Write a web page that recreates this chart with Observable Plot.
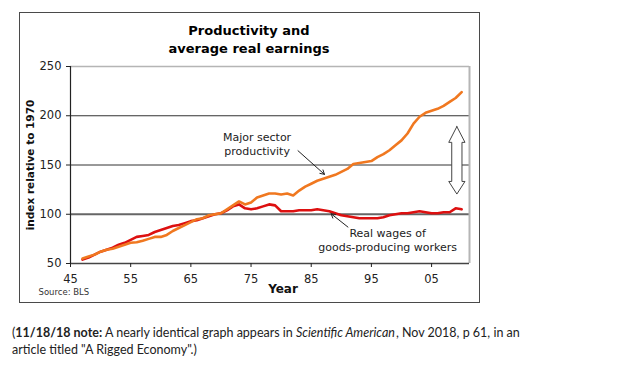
<!DOCTYPE html>
<html>
<head>
<meta charset="utf-8">
<script src="https://cdn.jsdelivr.net/npm/d3@7"></script>
<script src="https://cdn.jsdelivr.net/npm/@observablehq/plot@0.6"></script>
<style>
  html, body { margin: 0; padding: 0; background: #fff; }
  body { width: 624px; height: 372px; position: relative; overflow: hidden; }
  #box { position: absolute; left: 19px; top: 12px; width: 459px; height: 289px; border: 1.5px solid #4a4a4a; box-sizing: content-box; }
  #title { position: absolute; left: 19px; top: 22px; width: 460px; text-align: center;
    font-family: "DejaVu Sans", Verdana, sans-serif; font-weight: bold; font-size: 13px; line-height: 18px; color: #000; }
  #chart { position: absolute; left: 19px; top: 12px; }
  #note { position: absolute; left: 12px; top: 324px; width: 600px; white-space: nowrap;
    font-family: Lato, "Open Sans", sans-serif; font-size: 12.5px; line-height: 17px; color: #222; }
  #note i { padding-right: 1px; }
</style>
</head>
<body>
<div id="box"></div>
<div id="title">Productivity and<br>average real earnings</div>
<div id="chart"></div>
<div id="note"><span>(</span><b>11/18/18 note:</b><span> A nearly identical graph appears in </span><i>Scientific American</i><span>, Nov 2018, p 61, in an</span><br><span>article titled "A Rigged Economy".)</span></div>
<script>
// Data (index relative to 1970)
const years = [1947,1948,1949,1950,1951,1952,1953,1954,1955,1956,1957,1958,1959,1960,1961,1962,1963,1964,1965,1966,1967,1968,1969,1970,1971,1972,1973,1974,1975,1976,1977,1978,1979,1980,1981,1982,1983,1984,1985,1986,1987,1988,1989,1990,1991,1992,1993,1994,1995,1996,1997,1998,1999,2000,2001,2002,2003,2004,2005,2006,2007,2008,2009,2010];
const productivity = [55,57,59,62,64,65,67,69,71,71.5,73,75,77,77,79,83,86,89,92,95,96,99,100,101,105,109,113,110,112,117,119,121,121,120,121,119,124,128,131,134,136,138,140,143,146,151,152,153,154,158,161,165,170,175,182,192,199,203,205,207,210,214,218,224];
const realWages = [54,56,59,62,64,66,69,71,74,77,78,79,82,84,86,88,89,91,93,94,96,98,100,101,104,108,110,106,105,106,108,110,109,103,103,103,104,104,104,105,104,103,101,99,98,97,96,96,96,96,97,99,100,101,101,102,103,102,101,101,102,102,106,105];

const xTicks = [1945,1955,1965,1975,1985,1995,2005];
const yTicks = [50,100,150,200,250];
const gridValues = [150,200];

// annotation labels and arrows
const labels = [
  {x: 1976, y: 172, text: "Major sector\nproductivity"},
  {x: 1997.7, y: 74, text: "Real wages of\ngoods-producing workers"}
];
const arrows = [
  {x1: 1982.8, y1: 164.5, x2: 1987.2, y2: 140.5},
  {x1: 1991.1, y1: 87, x2: 1988.3, y2: 100.5}
];
// hollow double arrow showing the gap (center year, top value, bottom value)
const gapArrow = {x: 2009.2, top: 189, bottom: 120.5, headLen: 16, halfHead: 1.35, halfShaft: 0.85};

const prod = years.map((d, i) => ({year: d, value: productivity[i]}));
const wage = years.map((d, i) => ({year: d, value: realWages[i]}));

const g = gapArrow;
const gapPoly = [
  [g.x, g.top], [g.x + g.halfHead, g.top - g.headLen], [g.x + g.halfShaft, g.top - g.headLen],
  [g.x + g.halfShaft, g.bottom + g.headLen * 0.8], [g.x + g.halfHead, g.bottom + g.headLen * 0.8], [g.x, g.bottom],
  [g.x - g.halfHead, g.bottom + g.headLen * 0.8], [g.x - g.halfShaft, g.bottom + g.headLen * 0.8],
  [g.x - g.halfShaft, g.top - g.headLen], [g.x - g.halfHead, g.top - g.headLen], [g.x, g.top]
];

const font = "DejaVu Sans, Verdana, sans-serif";

const chart = Plot.plot({
  width: 462,
  height: 291,
  marginLeft: 51,
  marginTop: 54,
  marginRight: 12,
  marginBottom: 40,
  style: {fontFamily: font, fontSize: "11px", color: "#222", background: "transparent", overflow: "visible"},
  x: {domain: [1945, 2011.3], ticks: xTicks, tickFormat: d => String(d % 100).padStart(2, "0")},
  y: {domain: [50, 250], ticks: yTicks},
  marks: [
    Plot.ruleY(gridValues, {stroke: "#333", strokeWidth: 1}),
    Plot.ruleY([100], {stroke: "#666", strokeWidth: 2}),
    Plot.ruleY([250], {stroke: "#b5b5b5", strokeWidth: 1.5}),
    Plot.ruleX([2011.3], {stroke: "#b5b5b5", strokeWidth: 2}),
    Plot.ruleY([50], {stroke: "#444", strokeWidth: 1.5}),
    Plot.ruleX([1945], {stroke: "#222", strokeWidth: 1.2}),
    Plot.axisX({ticks: xTicks, tickSize: 4, tickPadding: 7, label: null, fontSize: 11.5,
      tickFormat: d => String(d % 100).padStart(2, "0")}),
    Plot.axisY({ticks: yTicks, tickSize: 4, tickPadding: 5, label: null, fontSize: 11.5}),
    Plot.line(wage, {x: "year", y: "value", stroke: "#dd1010", strokeWidth: 2.6, curve: "linear"}),
    Plot.line(prod, {x: "year", y: "value", stroke: "#f07820", strokeWidth: 2.6, curve: "linear"}),
    Plot.text(labels, {x: "x", y: "y", text: "text", fontSize: 11, fill: "#222", lineHeight: 1.25}),
    Plot.arrow(arrows, {x1: "x1", y1: "y1", x2: "x2", y2: "y2", stroke: "#222", strokeWidth: 1, headLength: 7, bend: 0}),
    Plot.line(gapPoly, {x: d => d[0], y: d => d[1], stroke: "#444", strokeWidth: 1, fill: "white", curve: "linear-closed"}),
    Plot.text(["index relative to 1970"], {frameAnchor: "left", textAnchor: "middle", dx: -40, rotate: -90, fontWeight: "bold", fontSize: 10.5, fill: "#111"}),
    Plot.text(["Year"], {frameAnchor: "bottom", textAnchor: "middle", dx: 13, dy: 29, fontWeight: "bold", fontSize: 12, fill: "#111"}),
    Plot.text(["Source: BLS"], {frameAnchor: "bottom-left", textAnchor: "start", dx: -32, dy: 31, fontSize: 8.5, fill: "#333", letterSpacing: "0.5px"})
  ]
});
document.getElementById("chart").appendChild(chart);
</script>
</body>
</html>
